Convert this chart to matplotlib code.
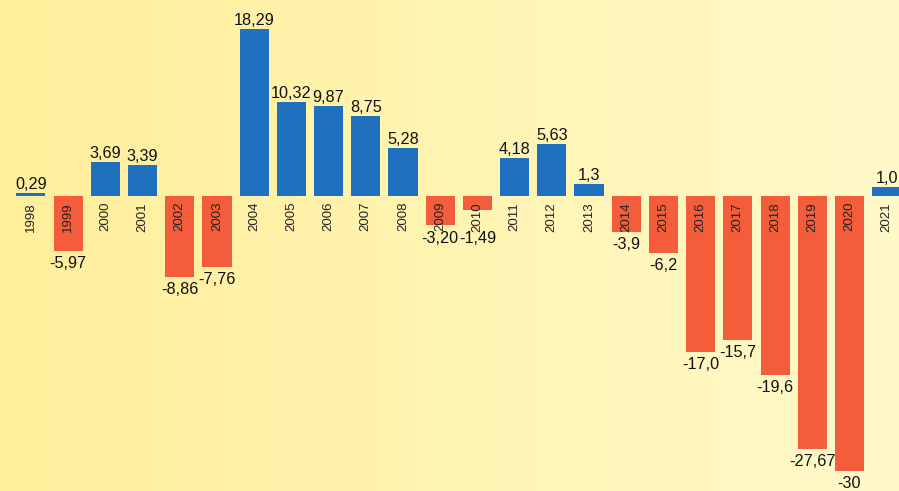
import numpy as np
import matplotlib.pyplot as plt
from matplotlib.colors import LinearSegmentedColormap

years = [str(y) for y in range(1998, 2022)]
values = [0.29, -5.97, 3.69, 3.39, -8.86, -7.76, 18.29, 10.32, 9.87, 8.75, 5.28,
          -3.20, -1.49, 4.18, 5.63, 1.3, -3.9, -6.2, -17.0, -15.7, -19.6, -27.67, -30, 1.0]
labels = ['0,29', '-5,97', '3,69', '3,39', '-8,86', '-7,76', '18,29', '10,32', '9,87',
          '8,75', '5,28', '-3,20', '-1,49', '4,18', '5,63', '1,3', '-3,9', '-6,2',
          '-17,0', '-15,7', '-19,6', '-27,67', '-30', '1,0']

blue = '#1f70be'
red = '#f45d3c'
val_font = ['Liberation Sans Narrow', 'Liberation Sans', 'DejaVu Sans']

fig = plt.figure(figsize=(8.99, 4.91), dpi=100)

# background gradient, left yellow -> right pale
bg = fig.add_axes([0, 0, 1, 1])
cmap = LinearSegmentedColormap.from_list('bg', ['#ffee9a', '#fff4b2', '#fff9ca'])
bg.imshow(np.linspace(0, 1, 256)[None, :], aspect='auto', cmap=cmap,
          extent=[0, 1, 0, 1])
bg.axis('off')

ax = fig.add_axes([0, 0, 1, 1])
ax.patch.set_alpha(0)
x = np.arange(len(years))
colors = [blue if v >= 0 else red for v in values]
ax.bar(x, values, width=0.78, color=colors, zorder=2)

year_bottom = -3.3  # negative labels go below the year text for short bars
for i, (v, lab) in enumerate(zip(values, labels)):
    if v >= 0:
        ax.annotate(lab, (i, v), xytext=(0, 4), textcoords='offset pixels',
                    ha='center', va='baseline', fontsize=11.7, family=val_font,
                    color='#111111', zorder=3)
    else:
        ax.annotate(lab, (i, min(v, year_bottom)), xytext=(0, -5),
                    textcoords='offset pixels', ha='center', va='top',
                    fontsize=11.7, family=val_font, color='#111111', zorder=3)
    ax.annotate(years[i], (i, 0), xytext=(0, -6), textcoords='offset pixels',
                ha='center', va='top', rotation=90, fontsize=9.5,
                family=val_font, color='#222222', zorder=3)

ax.set_xlim(-0.833, 23.333)
ax.set_ylim(-32.24, 21.42)
ax.axis('off')

fig.savefig('out.png', dpi=100)
